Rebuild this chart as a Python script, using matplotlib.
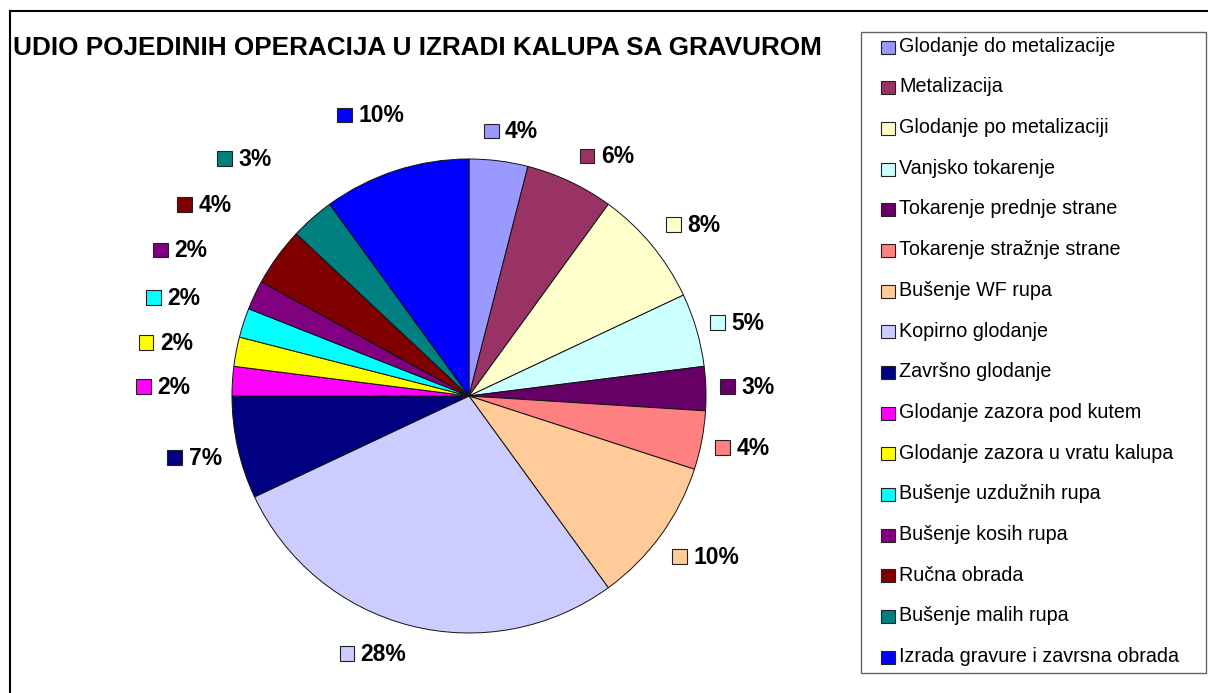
import matplotlib.pyplot as plt
from matplotlib.patches import Rectangle
from matplotlib.lines import Line2D
import numpy as np

plt.rcParams['font.family'] = ['Liberation Sans', 'DejaVu Sans']

#--------------- data -----------------------#
title = 'UDIO POJEDINIH OPERACIJA U IZRADI KALUPA SA GRAVUROM'
operations = ['Glodanje do metalizacije', 'Metalizacija', 'Glodanje po metalizaciji',
              'Vanjsko tokarenje', 'Tokarenje prednje strane', 'Tokarenje stražnje strane',
              'Bušenje WF rupa', 'Kopirno glodanje', 'Završno glodanje',
              'Glodanje zazora pod kutem', 'Glodanje zazora u vratu kalupa',
              'Bušenje uzdužnih rupa', 'Bušenje kosih rupa', 'Ručna obrada',
              'Bušenje malih rupa', 'Izrada gravure i zavrsna obrada']
shares = [4, 6, 8, 5, 3, 4, 10, 28, 7, 2, 2, 2, 2, 4, 3, 10]
colors = ['#9999FF', '#993366', '#FFFFCC', '#CCFFFF', '#660066', '#FF8080',
          '#FFCC99', '#CCCCFF', '#000080', '#FF00FF', '#FFFF00', '#00FFFF',
          '#800080', '#800000', '#008080', '#0000FF']

# extra shift of the data labels (px) so crowded ones do not collide
label_nudge = [(7, 4), (19, 2), (9, 4), (0, 0), (-1, 1), (-1, -2), (6, -6), (-25, -3),
               (-2, -4), (-27, -7), (-29, 4), (-30, 17), (-36, 34), (-39, 37),
               (-40, 40), (-10, 31)]

#--------------- figure -----------------------#
W, H = 1208, 693
fig = plt.figure(figsize=(W / 100, H / 100), dpi=100)
ax = fig.add_axes([0, 0, 1, 1])   # data units == pixels

cx, cy, R = 469, H - 396, 237
wedges, _ = ax.pie(shares, colors=colors, startangle=90, counterclock=False,
                   center=(cx, cy), radius=R,
                   wedgeprops=dict(edgecolor='#111111', linewidth=0.7))
ax.set_xlim(0, W)
ax.set_ylim(0, H)
ax.set_aspect('equal')
ax.axis('off')

# chart area border (left and top)
ax.add_line(Line2D([10, 10], [0, H - 11], color='black', lw=1.5))
ax.add_line(Line2D([10, W], [H - 11, H - 11], color='black', lw=1.5))

ax.text(13, H - 55, title, fontsize=18.8, fontweight='bold', ha='left', va='baseline')

# data labels: colour square + percentage outside the pie
renderer = fig.canvas.get_renderer()
sq, gap, rg, hb = 14.7, 6.5, 252, 11
for w, v, (nx, ny) in zip(wedges, shares, label_nudge):
    th = np.deg2rad((w.theta1 + w.theta2) / 2)
    ux, uy = np.cos(th), np.sin(th)
    t = ax.text(0, 0, f'{v}%', fontsize=16.5, fontweight='bold', ha='left', va='baseline')
    tw = t.get_window_extent(renderer).width
    bw = sq + gap + tw
    bx = cx + (rg + bw / 2) * ux + nx
    by = cy + (rg + hb) * uy + ny
    left = bx - bw / 2
    ax.add_patch(Rectangle((left, by - sq / 2), sq, sq, facecolor=w.get_facecolor(),
                           edgecolor='#222222', lw=0.8))
    t.set_position((left + sq + gap, by - 7.3))

# legend box
lx0, lx1, ly0, ly1 = 861, 1206, 31.7, 673.3
ax.add_patch(Rectangle((lx0, H - ly1), lx1 - lx0, ly1 - ly0, facecolor='white',
                       edgecolor='#666666', lw=1.0))
row0, step = 47, 40.69
for i, (name, w) in enumerate(zip(operations, wedges)):
    yc = H - (row0 + i * step)
    ax.add_patch(Rectangle((881, yc - 6.5), 13.5, 13, facecolor=w.get_facecolor(),
                           edgecolor='#222222', lw=0.8))
    ax.text(899, yc - 4.7, name, fontsize=14.2, ha='left', va='baseline')

plt.savefig('out.png', dpi=100)
